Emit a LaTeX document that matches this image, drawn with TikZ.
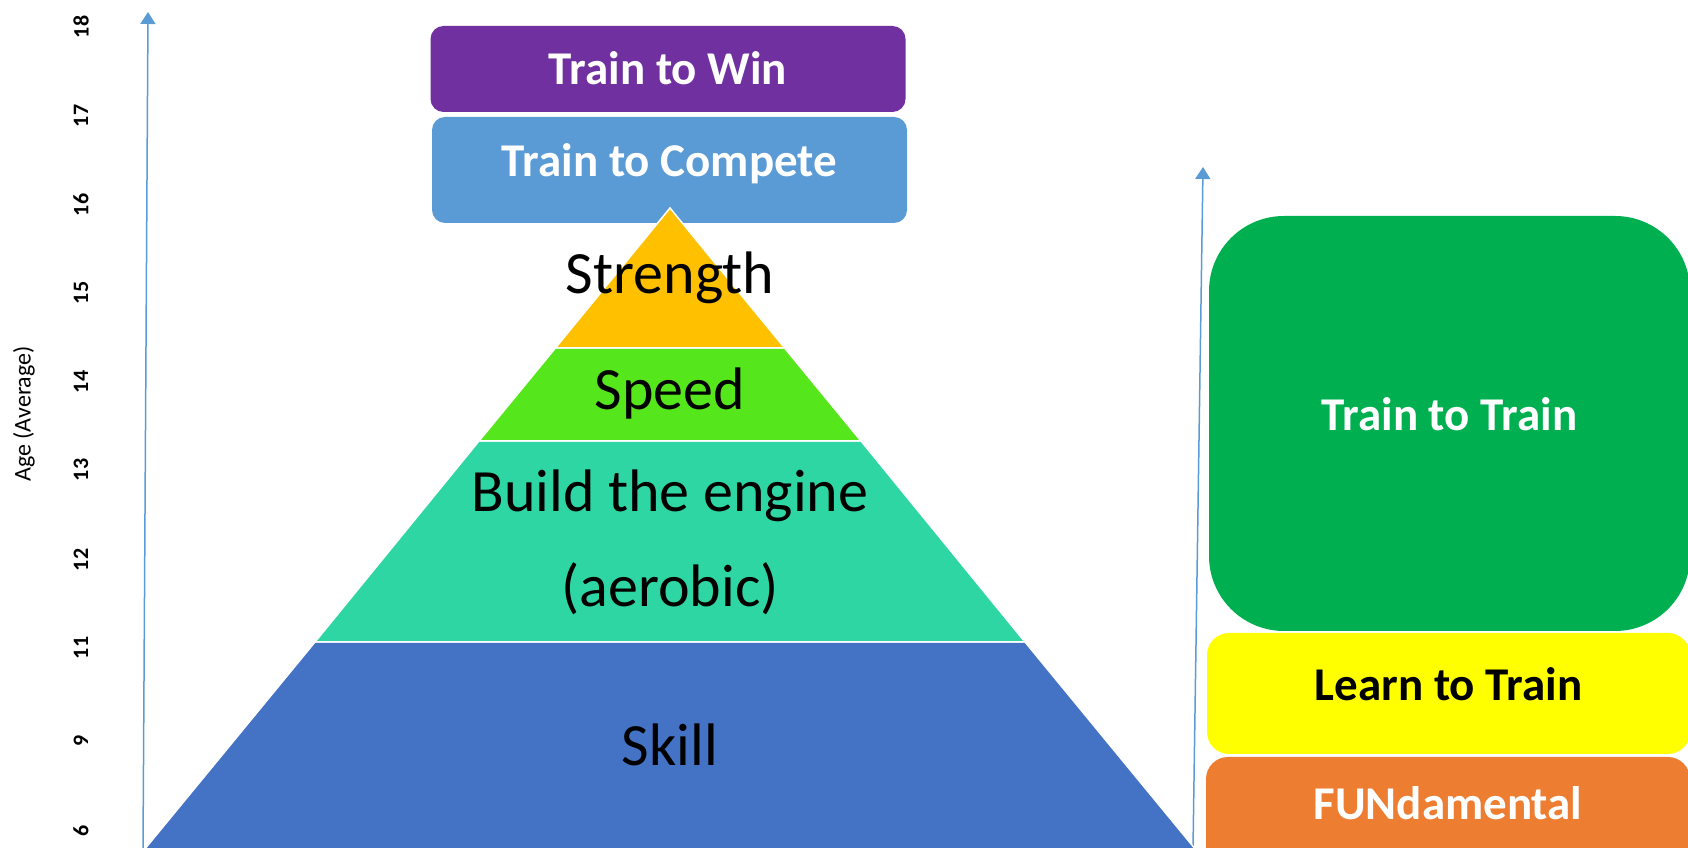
\documentclass[tikz,border=0pt]{standalone}
\usepackage{fontspec}
\setmainfont{Carlito}
\usepackage{tikz}
\usetikzlibrary{arrows.meta}

\definecolor{winpurple}{HTML}{7030A0}
\definecolor{competeblue}{HTML}{5B9BD5}
\definecolor{strengthgold}{HTML}{FFC000}
\definecolor{speedgreen}{HTML}{55E61C}
\definecolor{enginecyan}{HTML}{2ED6A3}
\definecolor{skillblue}{HTML}{4472C4}
\definecolor{traingreen}{HTML}{00B050}
\definecolor{learnyellow}{HTML}{FFFF00}
\definecolor{fundorange}{HTML}{ED7D31}
\definecolor{arrowblue}{HTML}{5B9BD5}

\begin{document}
\begin{tikzpicture}[x=1pt, y=1pt,
  stage/.style={rounded corners=13pt, inner sep=0pt, minimum width=475pt, text=white,
    font=\fontsize{47}{56}\selectfont\bfseries, text height=31pt, text depth=17pt},
  layer/.style={draw=white, line width=1.5pt},
  layertext/.style={font=\fontsize{60}{95}\selectfont, align=center},
  agearrow/.style={draw=arrowblue, line width=1.5pt, -{Triangle[width=15pt,length=12pt]}},
  tick/.style={rotate=90, font=\fontsize{22}{26}\selectfont\bfseries}]
\path[use as bounding box, clip] (0,0) rectangle (1688,848);

\foreach \age/\ypos in {18/821, 17/732, 16/643, 15/555, 14/466, 13/378, 12/288, 11/200, 9/107, 6/17}
  \node[tick] (age\age) at (81,\ypos) {\age};
\node[tick, font=\fontsize{24}{28}\selectfont] (agelabel) at (24,434) {Age (Average)};

\coordinate (lbase) at (143,0);
\coordinate (ltip) at (148,836);
\coordinate (rbase) at (1193,0);
\coordinate (rtip) at (1203,681);
\draw[agearrow] (lbase) -- (ltip);
\draw[agearrow] (rbase) -- (rtip);

\node[stage, fill=winpurple, minimum height=86pt, text depth=0pt] (win) at (668,779) {Train to Win};
\node[stage, fill=competeblue, minimum height=106pt] (compete) at (669.5,678) {Train to Compete};

\node[stage, fill=traingreen, rounded corners=75pt, minimum width=481pt, minimum height=415pt] (traintrain) at (1449.5,424.5) {Train to Train};
\node[stage, fill=learnyellow, text=black, rounded corners=22pt, minimum width=483pt, minimum height=121pt] (learn) at (1448.5,154.5) {Learn to Train};
\node[stage, fill=fundorange, rounded corners=22pt, minimum width=484pt, minimum height=111pt] (fund) at (1448,35.5) {FUNdamental};

\filldraw[layer, fill=skillblue] (315,206) -- (1025,206) -- (1196,-2) -- (144,-2) -- cycle;
\filldraw[layer, fill=enginecyan] (479,407) -- (861,407) -- (1025,206) -- (315,206) -- cycle;
\filldraw[layer, fill=speedgreen] (555.4,500) -- (784.6,500) -- (861,407) -- (479,407) -- cycle;
\filldraw[layer, fill=strengthgold] (670,640) -- (784.6,500) -- (555.4,500) -- cycle;

\node[layertext] (strength) at (670,570) {Strength};
\node[layertext] (speed) at (670,454) {Speed};
\node[layertext] (engine) at (670,305.5) {Build the engine\\(aerobic)};
\node[layertext] (skill) at (670,103) {Skill};
\end{tikzpicture}
\end{document}
